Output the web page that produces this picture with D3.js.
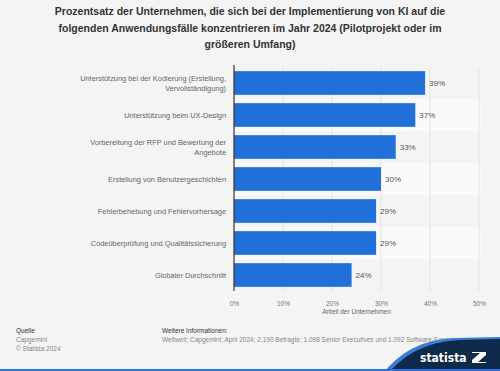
<!DOCTYPE html>
<html>
<head>
<meta charset="utf-8">
<script src="https://cdn.jsdelivr.net/npm/d3@7"></script>
<style>
  body { margin: 0; background: #f4f4f4; }
  svg { display: block; font-family: "Liberation Sans", Arial, sans-serif; }
</style>
</head>
<body>
<div id="chart"></div>
<script>
// data
const categories = [
  ["Unterstützung bei der Kodierung (Erstellung,", "Vervollständigung)"],
  ["Unterstützung beim UX-Design"],
  ["Vorbereitung der RFP und Bewertung der", "Angebote"],
  ["Erstellung von Benutzergeschichten"],
  ["Fehlerbehebung und Fehlervorhersage"],
  ["Codeüberprüfung und Qualitätssicherung"],
  ["Globaler Durchschnitt"]
];
const values = [39, 37, 33, 30, 29, 29, 24];
const xTicks = [0, 10, 20, 30, 40, 50];
const titleLines = [
  "Prozentsatz der Unternehmen, die sich bei der Implementierung von KI auf die",
  "folgenden Anwendungsfälle konzentrieren im Jahr 2024 (Pilotprojekt oder im",
  "größeren Umfang)"
];

const width = 500, height = 371;
const margin = {top: 67, right: 20, bottom: 80, left: 234};
const plotW = 479 - margin.left;
const plotH = 291 - margin.top;

const svg = d3.select("#chart").append("svg")
  .attr("width", width)
  .attr("height", height);

svg.append("rect").attr("width", width).attr("height", height).attr("fill", "#f4f4f4");

// title
svg.append("g").selectAll("text")
  .data(titleLines)
  .enter().append("text")
  .attr("x", 250)
  .attr("y", (d, i) => 15 + i * 16.5)
  .attr("text-anchor", "middle")
  .attr("font-size", 10.5)
  .attr("font-weight", "bold")
  .attr("fill", "#333")
  .text(d => d);

const g = svg.append("g")
  .attr("transform", "translate(" + margin.left + "," + margin.top + ")");

const x = d3.scaleLinear().domain([0, 50]).range([0, plotW]);
const y = d3.scaleBand()
  .domain(d3.range(values.length))
  .range([0, plotH])
  .paddingInner(0.26)
  .paddingOuter(0.13);

// alternating row stripes
const step = y.step();
g.selectAll(".stripe")
  .data(d3.range(values.length).filter(i => i % 2 === 1))
  .enter().append("rect")
  .attr("x", 0)
  .attr("y", i => y(i) - step * 0.13)
  .attr("width", x(50) + 2)
  .attr("height", step)
  .attr("fill", "#fafafa");

// gridlines
g.selectAll(".grid")
  .data(xTicks.slice(1))
  .enter().append("line")
  .attr("x1", d => x(d)).attr("x2", d => x(d))
  .attr("y1", 0).attr("y2", plotH)
  .attr("stroke", "#e3e3e3")
  .attr("stroke-width", 1);

// bars
g.selectAll(".bar")
  .data(values)
  .enter().append("rect")
  .attr("x", 0)
  .attr("y", (d, i) => y(i))
  .attr("width", d => x(d))
  .attr("height", y.bandwidth())
  .attr("fill", "#2070d8");

// value labels
g.selectAll(".val")
  .data(values)
  .enter().append("text")
  .attr("x", d => x(d) + 4)
  .attr("y", (d, i) => y(i) + y.bandwidth() / 2)
  .attr("dy", "0.35em")
  .attr("font-size", 8)
  .attr("fill", "#555")
  .text(d => d + "%");

// category labels
const cats = g.selectAll(".cat")
  .data(categories)
  .enter().append("text")
  .attr("text-anchor", "end")
  .attr("font-size", 7.4)
  .attr("fill", "#666")
  .attr("y", (d, i) => y(i) + y.bandwidth() / 2 - (d.length - 1) * 5)
  .attr("x", -8);
cats.selectAll("tspan")
  .data(d => d)
  .enter().append("tspan")
  .attr("x", -8)
  .attr("dy", (d, i) => i === 0 ? "0.35em" : 10)
  .text(d => d);

// y axis line
g.append("line")
  .attr("x1", 0).attr("x2", 0)
  .attr("y1", -2).attr("y2", plotH)
  .attr("stroke", "#333")
  .attr("stroke-width", 1.2);

// x axis
const xAxis = g.append("g")
  .attr("transform", "translate(0," + plotH + ")")
  .call(d3.axisBottom(x).tickValues(xTicks).tickFormat(d => d + "%").tickSize(0).tickPadding(10));
xAxis.select(".domain").remove();
xAxis.selectAll("text").attr("font-size", 6.5).attr("fill", "#777").attr("font-family", "Liberation Sans, Arial, sans-serif");

g.append("text")
  .attr("x", x(25))
  .attr("y", plotH + 23)
  .attr("text-anchor", "middle")
  .attr("font-size", 6.5)
  .attr("fill", "#666")
  .text("Anteil der Unternehmen");

// footer
const foot = svg.append("g").attr("font-size", 6.5);
foot.append("text").attr("x", 16).attr("y", 333).attr("fill", "#333").text("Quelle");
foot.append("text").attr("x", 16).attr("y", 342).attr("fill", "#888").text("Capgemini");
foot.append("text").attr("x", 16).attr("y", 351).attr("fill", "#888").text("© Statista 2024");
foot.append("text").attr("x", 162).attr("y", 333).attr("fill", "#333").text("Weitere Informationen:");
foot.append("text").attr("x", 162).attr("y", 342).attr("fill", "#888")
  .text("Weltweit; Capgemini; April 2024; 2.190 Befragte; 1.098 Senior Executives und 1.092 Software-Experten");

// statista swoosh
svg.append("path")
  .attr("d", "M385,371 C405,348 425,340 455,338 L500,337 L500,371 Z")
  .attr("fill", "#3a7bd5");
svg.append("path")
  .attr("d", "M390,371 C410,350 430,342 460,340 L500,339 L500,371 Z")
  .attr("fill", "#0d2a4a");
svg.append("rect").attr("x", 0).attr("y", 369).attr("width", width).attr("height", 2).attr("fill", "#2f72d6");
svg.append("text")
  .attr("x", 420).attr("y", 362)
  .attr("font-size", 12)
  .attr("font-weight", "bold")
  .attr("fill", "#fff")
  .attr("font-family", "DejaVu Sans Condensed, sans-serif")
  .text("statista");
svg.append("path")
  .attr("d", "M472,352 L486,352 L486,355 L478,362 L486,362 L486,363 L472,363 L472,360 L480,353 L472,353 Z")
  .attr("fill", "#fff");
</script>
</body>
</html>
